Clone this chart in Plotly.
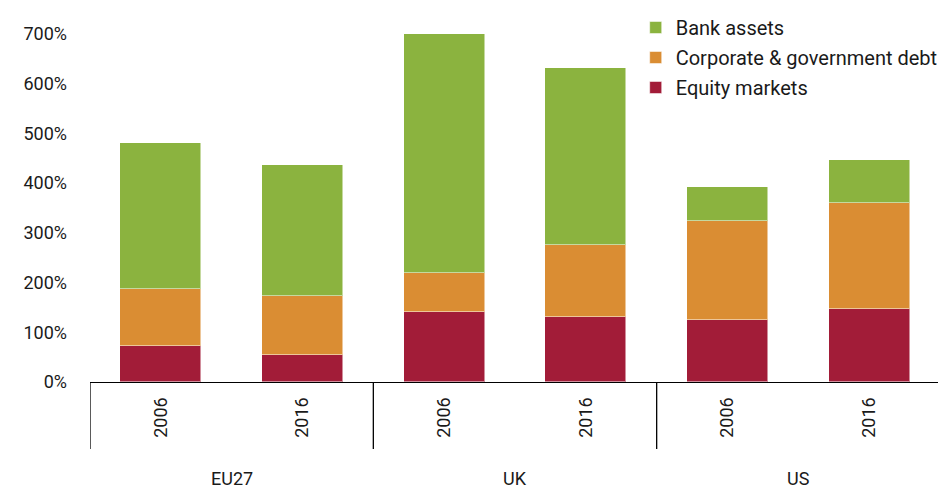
import plotly.graph_objects as go

regions = ["EU27", "UK", "US"]
years = ["2006", "2016", "2006", "2016", "2006", "2016"]
equity = [72, 54, 141, 131, 125, 147]
debt = [115, 119, 78, 145, 199, 213]
bank = [294, 264, 481, 356, 68, 87]
y_ticks = [0, 100, 200, 300, 400, 500, 600, 700]

x = list(range(len(years)))
font = "Roboto"

fig = go.Figure()
series = [("Equity markets", equity, "#A21C38", 3),
          ("Corporate & government debt", debt, "#DA8D33", 2),
          ("Bank assets", bank, "#8BB33F", 1)]
for name, vals, col, rank in series:
    fig.add_trace(go.Bar(x=x, y=vals, name=name, width=0.57, legendgroup=name,
                         legendrank=rank,
                         marker=dict(color=col, line=dict(color="rgba(255,255,255,0.5)", width=1))))

# plot area spans the full figure height above the baseline; 700% sits 26px below the top
plot_h = 374
y_top = 700 * plot_h / (plot_h - 26)

shapes = []
for xv in [-0.5, 1.5, 3.5, 5.5]:
    shapes.append(dict(type="line", xref="x", yref="paper", x0=xv, x1=xv, y0=0, y1=-67 / plot_h,
                       line=dict(color="black", width=1.3)))
annotations = []
for i, r in enumerate(regions):
    annotations.append(dict(x=2 * i + 0.5, y=-96 / plot_h, xref="x", yref="paper", text=r,
                            showarrow=False, yanchor="middle",
                            font=dict(family=font, size=18, color="#1a1a1a")))

fig.update_layout(
    barmode="stack",
    width=938, height=480,
    margin=dict(l=82, r=6, t=0, b=106),
    plot_bgcolor="white", paper_bgcolor="white",
    font=dict(family=font, size=18, color="#1a1a1a"),
    xaxis=dict(range=[-0.5, 5.5], tickvals=x, ticktext=years, tickangle=-90,
               showline=True, linecolor="black", linewidth=1.3, ticks="",
               showgrid=False, zeroline=False, ticklabelstandoff=7,
               tickfont=dict(size=18)),
    yaxis=dict(range=[0, y_top], tickvals=y_ticks, ticktext=[f"{v}%" for v in y_ticks],
               showgrid=False, zeroline=False, showline=False, ticks="",
               ticklabelstandoff=22, tickfont=dict(size=18)),
    legend=dict(x=0.642, y=1.0, xanchor="left", yanchor="top",
                font=dict(size=20), tracegroupgap=1, itemwidth=30,
                traceorder="grouped",
                bgcolor="rgba(0,0,0,0)"),
    shapes=shapes,
    annotations=annotations,
    bargap=0,
)
fig.write_html("out.html")
